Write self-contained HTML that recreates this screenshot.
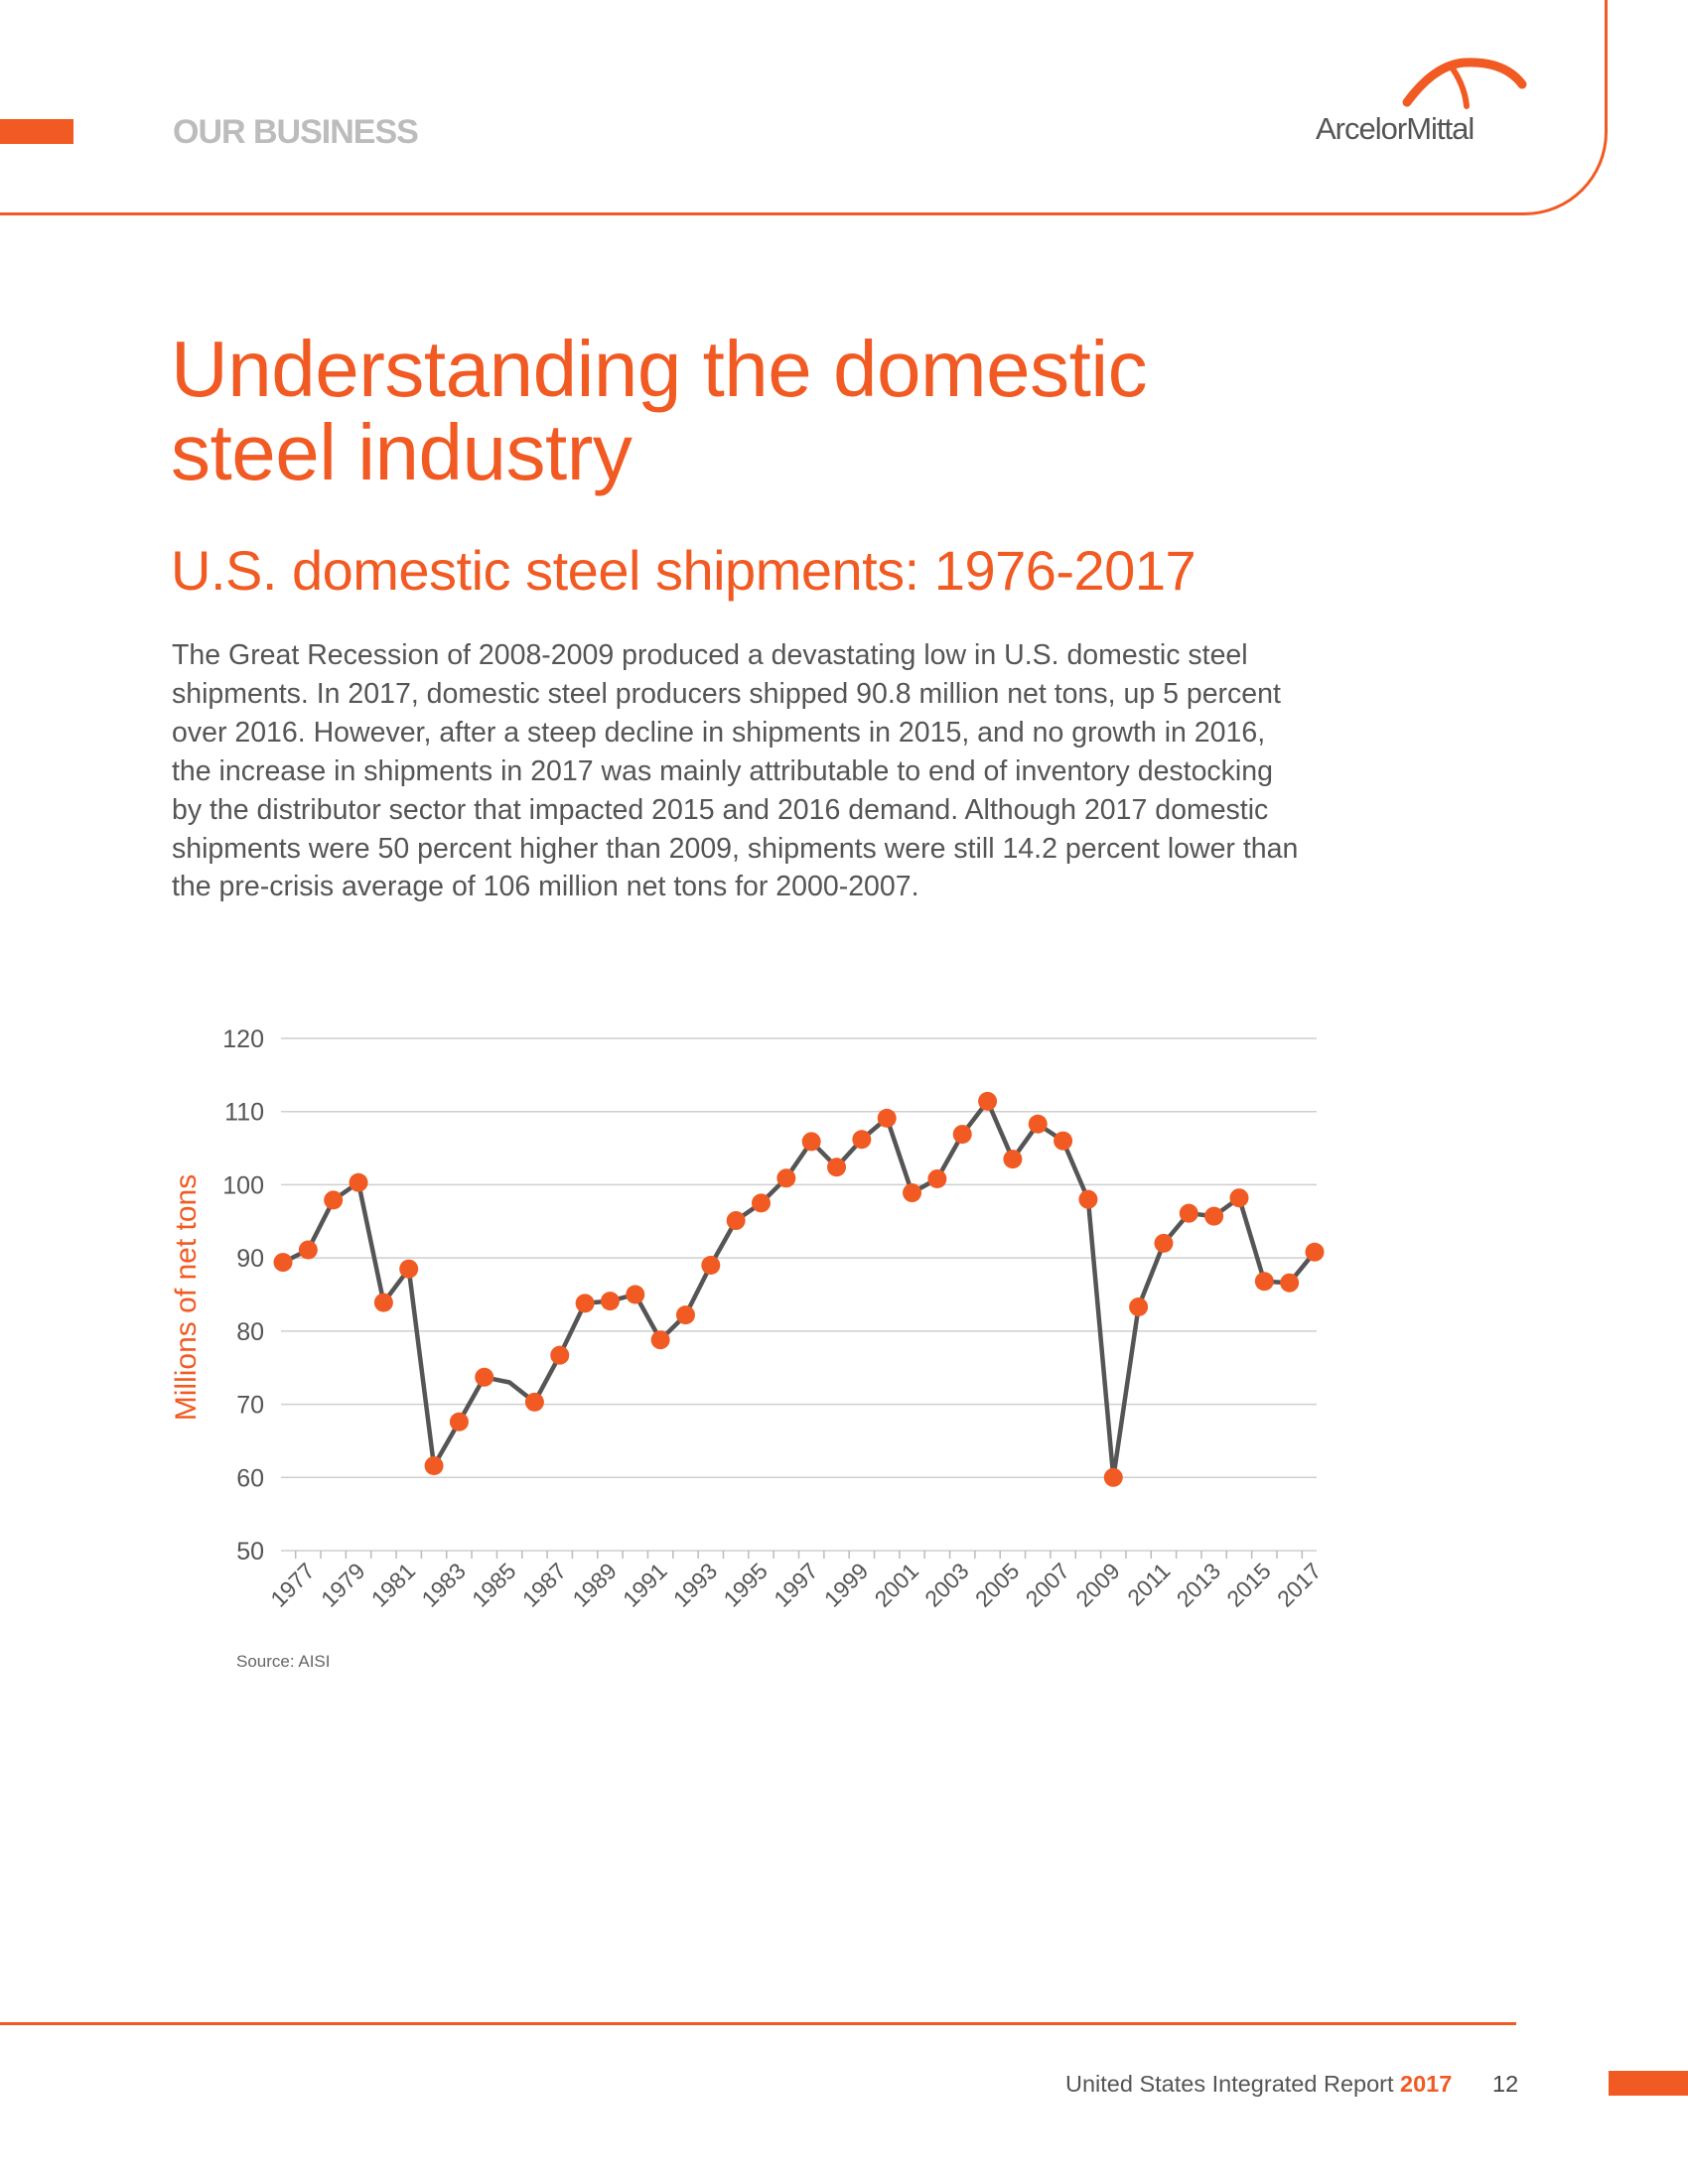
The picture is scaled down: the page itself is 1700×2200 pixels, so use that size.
<!DOCTYPE html>
<html><head><meta charset="utf-8">
<style>
html,body{margin:0;padding:0;background:#fff;}
body{width:1700px;height:2200px;position:relative;overflow:hidden;font-family:"Liberation Sans",sans-serif;}
.abs{position:absolute;}
</style></head>
<body>
<div class="abs" style="left:-10px;top:-10px;width:1626px;height:224px;border-right:3px solid #f15a22;border-bottom:3px solid #f15a22;border-bottom-right-radius:84px;"></div>
<div class="abs" style="left:0;top:120px;width:74px;height:25px;background:#f15a22;"></div>
<div class="abs" style="left:174px;top:114px;font-size:34px;font-weight:bold;color:#bcbcbc;letter-spacing:-1px;">OUR BUSINESS</div>
<svg class="abs" style="left:1405px;top:55px" width="135" height="55" viewBox="0 0 135 55">
<path d="M12 48 Q40 10 70 8 Q110 6 128 30" stroke="#f15a22" stroke-width="9" fill="none" stroke-linecap="round"/>
<path d="M55 10 Q70 30 72 52" stroke="#f15a22" stroke-width="6" fill="none" stroke-linecap="round"/>
</svg>
<div class="abs" style="left:1325px;top:112px;font-size:31px;color:#555;letter-spacing:-1px;">ArcelorMittal</div>

<div class="abs" style="left:172px;top:330px;font-size:80px;line-height:84px;color:#f15a22;letter-spacing:-0.5px;">Understanding the domestic<br>steel industry</div>
<div class="abs" style="left:172px;top:542px;font-size:56px;color:#f15a22;letter-spacing:-0.5px;">U.S. domestic steel shipments: 1976-2017</div>
<div class="abs" style="left:173px;top:641px;white-space:nowrap;font-size:28.5px;line-height:38.9px;color:#555;">The Great Recession of 2008-2009 produced a devastating low in U.S. domestic steel<br>shipments. In 2017, domestic steel producers shipped 90.8 million net tons, up 5 percent<br>over 2016. However, after a steep decline in shipments in 2015, and no growth in 2016,<br>the increase in shipments in 2017 was mainly attributable to end of inventory destocking<br>by the distributor sector that impacted 2015 and 2016 demand. Although 2017 domestic<br>shipments were 50 percent higher than 2009, shipments were still 14.2 percent lower than<br>the pre-crisis average of 106 million net tons for 2000-2007.</div>

<svg id="chart" class="abs" style="left:0;top:0" width="1700" height="2200"></svg>
<div class="abs" style="left:238px;top:1664px;font-size:17px;color:#666;">Source: AISI</div>

<div class="abs" style="left:0;top:2037px;width:1527px;height:3px;background:#f15a22;"></div>
<div class="abs" style="left:1073px;top:2086px;font-size:23.5px;color:#555;">United States Integrated Report <b style="color:#f15a22">2017</b></div>
<div class="abs" style="left:1503px;top:2086px;font-size:23.5px;color:#444;">12</div>
<div class="abs" style="left:1620px;top:2086px;width:80px;height:25px;background:#f15a22;"></div>

<script>
const years = [];
for (let y = 1976; y <= 2017; y++) years.push(y);
const shipments = [89.4,91.1,97.9,100.3,83.9,88.5,61.6,67.6,73.7,73.0,70.3,76.7,83.8,84.1,85.0,78.8,82.2,89.0,95.1,97.5,100.9,105.9,102.4,106.2,109.1,98.9,100.8,106.9,111.4,103.5,108.3,106.0,98.0,60.0,83.3,92.0,96.1,95.7,98.2,86.8,86.6,90.8];
const yTicks = [50,60,70,80,90,100,110,120];
const noMarkerYears = [1985];

const NS = "http://www.w3.org/2000/svg";
const svg = document.getElementById('chart');
const X0 = 285, X1 = 1324, Y50 = 1562, Y120 = 1046;
function xPos(i){ return X0 + (X1 - X0) * i / (years.length - 1); }
function yPos(v){ return Y50 + (v - 50) * (Y120 - Y50) / 70; }
function mk(tag, attrs){ const e = document.createElementNS(NS, tag); for (const k in attrs) e.setAttribute(k, attrs[k]); svg.appendChild(e); return e; }

yTicks.forEach(t => {
  const g = mk('line', {x1:283, x2:1326, y1:yPos(t), y2:yPos(t), stroke:'#cfcfcf', 'stroke-width':1.5});
  
  
  const l = mk('text', {x:266, y:yPos(t)+9, 'text-anchor':'end', 'font-size':25, fill:'#555', 'font-family':'Liberation Sans, sans-serif'});
  l.textContent = t;
  
  
});
const step = (X1 - X0) / (years.length - 1);
years.forEach((yr, i) => {
  if (i < years.length - 1) {
    const tk = mk('line', {x1:xPos(i)+step/2, x2:xPos(i)+step/2, y1:Y50, y2:Y50+8, stroke:'#bbb', 'stroke-width':1.5});
    
    
  }
  if (yr % 2 === 1) {
    const x = xPos(i) + 8, y = Y50 + 22;
    const t = mk('text', {x:x, y:y, 'text-anchor':'end', 'font-size':23, fill:'#555', 'font-family':'Liberation Sans, sans-serif', transform:'rotate(-45 '+x+' '+y+')'});
    t.textContent = yr;
    
    
  }
});
const ttl = mk('text', {x:0, y:0, 'text-anchor':'middle', 'font-size':30, fill:'#f15a22', 'font-family':'Liberation Sans, sans-serif', transform:'translate(197 1307) rotate(-90)'});
ttl.textContent = 'Millions of net tons';



const pts = shipments.map((v, i) => xPos(i).toFixed(1) + ',' + yPos(v).toFixed(1)).join(' ');
const line = mk('polyline', {points:pts, fill:'none', stroke:'#555', 'stroke-width':4.5, 'stroke-linejoin':'round'});


shipments.forEach((v, i) => {
  if (noMarkerYears.includes(years[i])) return;
  const c = mk('circle', {cx:xPos(i), cy:yPos(v), r:9.5, fill:'#f15a22'});
  
  
});
</script>
</body></html>
